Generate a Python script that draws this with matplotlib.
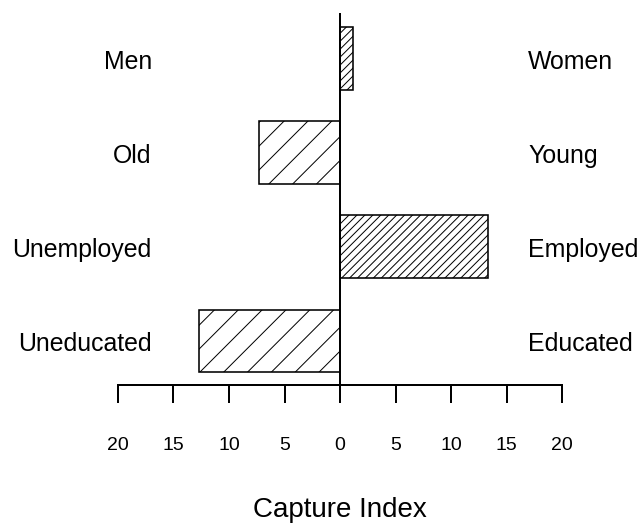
import matplotlib
matplotlib.use('Agg')
import matplotlib.pyplot as plt

# data
left_labels = ['Men', 'Old', 'Unemployed', 'Uneducated']
right_labels = ['Women', 'Young', 'Employed', 'Educated']
capture_index = [1.2, -7.3, 13.3, -12.7]
tick_values = [-20, -15, -10, -5, 0, 5, 10, 15, 20]
tick_labels = ['20', '15', '10', '5', '0', '5', '10', '15', '20']

plt.rcParams['font.family'] = ['Liberation Sans', 'DejaVu Sans']
plt.rcParams['hatch.linewidth'] = 0.5
plt.rcParams['hatch.color'] = 'black'

DPI = 143
fig = plt.figure(figsize=(643 / DPI, 525 / DPI), dpi=DPI)
ax = fig.add_axes([118 / 643, (525 - 385) / 525, 444 / 643, 372 / 525])

ypos = [len(left_labels) - 1 - i for i in range(len(left_labels))]
for y, v in zip(ypos, capture_index):
    # sparse hatch for negative bars, dense for positive
    hatch = '//' if v < 0 else '//////'
    ax.barh(y, v, height=0.67, color='white', edgecolor='black',
            linewidth=0.8, hatch=hatch, zorder=2)

ax.axvline(0, color='black', lw=1.0, zorder=3)

for y, lab in zip(ypos, left_labels):
    ax.text(-16.95, y - 0.03, lab, ha='right', va='center', fontsize=12.5, clip_on=False)
for y, lab in zip(ypos, right_labels):
    ax.text(16.95, y - 0.03, lab, ha='left', va='center', fontsize=12.5, clip_on=False)

ax.set_xlim(-20, 20)
ax.set_ylim(-0.468, 3.489)
for s in ['left', 'right', 'top']:
    ax.spines[s].set_visible(False)
ax.spines['bottom'].set_linewidth(1.0)
ax.set_yticks([])
ax.set_xticks(tick_values)
ax.set_xticklabels(tick_labels, fontsize=9.8)
ax.tick_params(axis='x', direction='out', length=9, width=1.0, pad=17)

fig.text(340 / 643, (525 - 510) / 525, 'Capture Index', ha='center',
         va='center', fontsize=14)

fig.savefig('out.png', dpi=DPI)
